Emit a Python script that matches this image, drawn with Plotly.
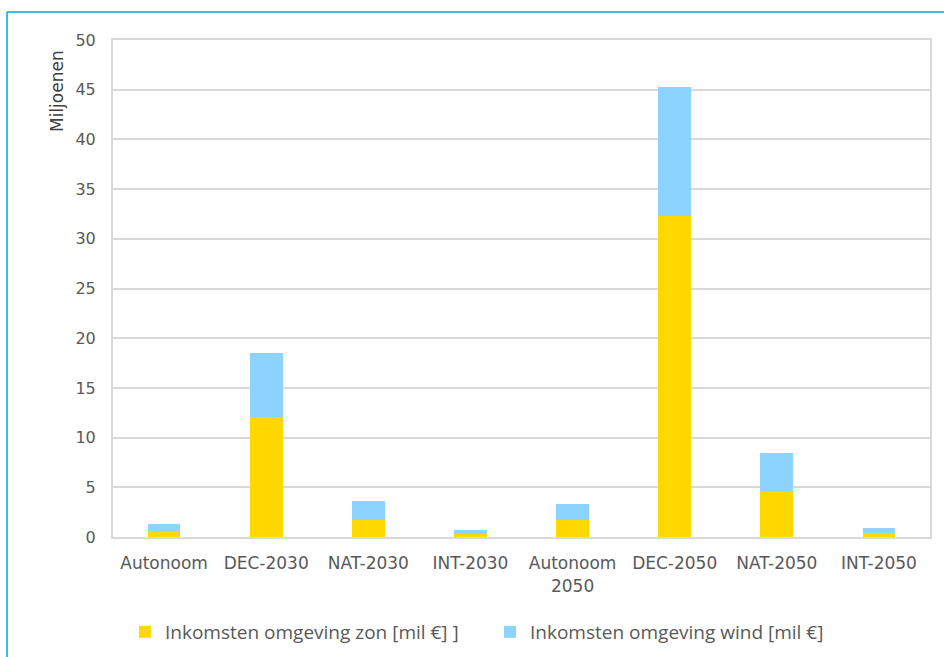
import plotly.graph_objects as go

categories = ["Autonoom", "DEC-2030", "NAT-2030", "INT-2030", "Autonoom<br>2050", "DEC-2050", "NAT-2050", "INT-2050"]
zon = [0.6, 12.1, 1.7, 0.27, 1.7, 32.3, 4.6, 0.37]
wind = [0.7, 6.4, 1.9, 0.43, 1.6, 13.0, 3.9, 0.57]
series_names = ["Inkomsten omgeving zon [mil €] ]", "Inkomsten omgeving wind [mil €]"]
y_ticks = [0, 5, 10, 15, 20, 25, 30, 35, 40, 45, 50]

FONT = "DejaVu Sans"
TXT = "#595959"

fig = go.Figure()
fig.add_bar(x=categories, y=zon, name=series_names[0], marker=dict(color="#FFD800", line=dict(width=0)))
fig.add_bar(x=categories, y=wind, name=series_names[1], marker=dict(color="#8DD3FF", line=dict(width=0)))

L, R, T, B = 113, 14, 40, 120
W, H = 944, 657
pw, ph = W - L - R, H - T - B

def px(xp):
    return (xp - L) / pw

def py(yp):
    return (H - B - yp) / ph

fig.update_layout(
    width=W, height=H,
    barmode="stack",
    bargap=0.68,
    margin=dict(l=L, r=R, t=T, b=B, autoexpand=False),
    paper_bgcolor="white",
    plot_bgcolor="white",
    font=dict(family=FONT, size=16, color=TXT),
    xaxis=dict(showline=True, linecolor="#d9d9d9", linewidth=2, mirror=True,
               tickfont=dict(size=17, color=TXT), ticks="", fixedrange=True,
               ticklabelstandoff=10, automargin=False),
    yaxis=dict(range=[0, 50], tickvals=y_ticks, showgrid=True, gridcolor="#d9d9d9", gridwidth=2,
               showline=True, linecolor="#d9d9d9", linewidth=2, mirror=True,
               zeroline=False, tickfont=dict(size=16, color=TXT), ticks="", ticklen=0,
               ticklabelstandoff=12, automargin=False, fixedrange=True),
    legend=dict(orientation="h", x=px(125), xanchor="left", y=py(632), yanchor="middle",
                font=dict(family="Open Sans", size=19, color=TXT), entrywidth=320,
                traceorder="normal", itemwidth=30),
    showlegend=True,
    annotations=[dict(text="Miljoenen", textangle=-90, xref="paper", yref="paper",
                      x=px(57), y=py(91), showarrow=False, xanchor="center", yanchor="middle",
                      font=dict(size=17, color="#404040"))],
    shapes=[
        dict(type="line", xref="paper", yref="paper", x0=px(7), x1=px(W + 5), y0=py(12), y1=py(12),
             line=dict(color="#00A0E0", width=1.5)),
        dict(type="line", xref="paper", yref="paper", x0=px(7), x1=px(7), y0=py(12), y1=py(H + 5),
             line=dict(color="#00A0E0", width=1.5)),
    ],
)

fig.write_html("out.html", config={"displayModeBar": False},
               post_script="document.body.style.margin='0';")
